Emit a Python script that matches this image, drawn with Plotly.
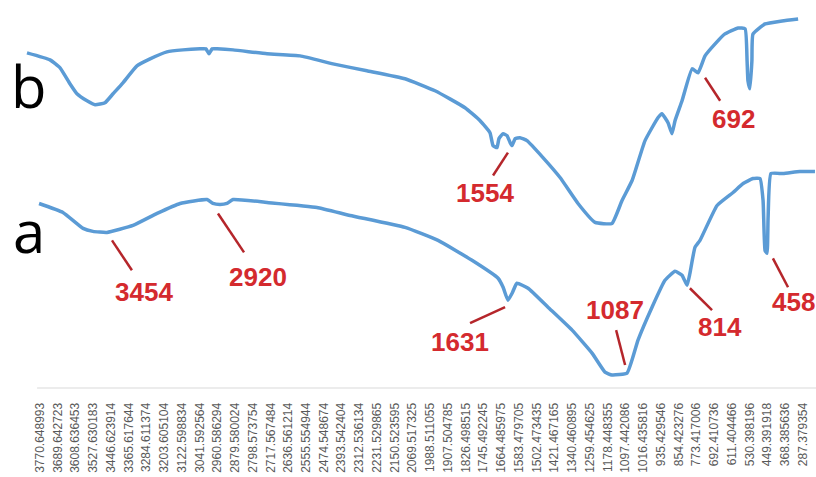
import plotly.graph_objects as go

# FTIR spectra: wavenumber (cm-1) vs transmittance (arbitrary units, offset traces)
wn_b = [3830, 3725, 3679, 3634, 3602, 3556, 3519, 3474, 3437, 3392, 3328, 3268,
        3191, 3118, 3040, 3013, 2999, 2985, 2962, 2889, 2734, 2583, 2433, 2278,
        2104, 1967, 1830, 1761, 1716, 1702, 1684, 1675, 1656, 1638, 1624, 1615,
        1601, 1579, 1547, 1474, 1396, 1314, 1236, 1159, 1113, 1067, 1008, 949,
        931, 903, 885, 871, 839, 793, 766, 734, 688, 643, 583, 551, 542, 538,
        529, 520, 515, 460, 382, 309]
t_b = [336, 329, 321, 305, 295, 288, 284, 286, 295, 306, 323, 330,
       337, 339, 340, 340, 335, 340, 340, 339, 335, 333, 325, 318,
       310, 298, 281, 268, 256, 243, 241, 250, 255, 253, 246, 243,
       250, 251, 248, 231, 211, 185, 166, 165, 188, 208, 248, 271,
       275, 266, 255, 268, 288, 320, 316, 333, 345, 355, 361, 360, 328, 308,
       300, 328, 355, 365, 368, 370]

wn_a = [3775, 3666, 3574, 3529, 3465, 3346, 3236, 3131, 3008, 2981, 2949, 2917,
        2889, 2734, 2506, 2355, 2104, 1953, 1798, 1679, 1656, 1634, 1615, 1593,
        1542, 1451, 1341, 1250, 1191, 1159, 1090, 1040, 976, 917, 871, 839,
        816, 803, 780, 757, 679, 606, 560, 515, 483, 469, 460, 451, 446, 433,
        378, 301, 232]
t_a = [185, 176, 160, 157, 156, 163, 175, 185, 189, 185, 184, 185,
       189, 186, 181, 173, 161, 148, 128, 110, 101, 88, 95, 105,
       100, 81, 58, 35, 16, 13, 15, 48, 81, 108, 117, 113,
       103, 115, 141, 148, 183, 196, 205, 210, 210, 188, 138, 135, 171, 215,
       215, 217, 217]

tick_labels = [
    "3770.648993", "3689.642723", "3608.636453", "3527.630183", "3446.623914",
    "3365.617644", "3284.611374", "3203.605104", "3122.598834", "3041.592564",
    "2960.586294", "2879.580024", "2798.573754", "2717.567484", "2636.561214",
    "2555.554944", "2474.548674", "2393.542404", "2312.536134", "2231.529865",
    "2150.523595", "2069.517325", "1988.511055", "1907.504785", "1826.498515",
    "1745.492245", "1664.485975", "1583.479705", "1502.473435", "1421.467165",
    "1340.460895", "1259.454625", "1178.448355", "1097.442086", "1016.435816",
    "935.429546", "854.423276", "773.417006", "692.410736", "611.404466",
    "530.398196", "449.391918", "368.385636", "287.379354",
]

peak_labels = ["3454", "2920", "1631", "1087", "814", "458", "1554", "692"]

# leader line (x0, y0, x1, y1) and text anchor (x, y) for each peak label
peak_layout = [
    (3442, 148, 3351, 118, 3296, 96),
    (2958, 175, 2839, 136, 2775, 111),
    (1647, 81, 1807, 65, 1853, 46),
    (1099, 23, 1140, 58, 1145, 78),
    (803, 100, 702, 78, 666, 61),
    (424, 130, 355, 101, 332, 86),
    (1634, 236, 1702, 213, 1739, 196),
    (734, 311, 665, 288, 606, 270),
]

trace_names = ["b", "a"]
trace_label_pos = [(3823, 303), (3823, 158)]

BLUE = "#5B9BD5"
RED_TEXT = "#D42A2E"
RED_LINE = "#B5262B"

fig = go.Figure()
for name, xs, ys in (("b", wn_b, t_b), ("a", wn_a, t_a)):
    fig.add_trace(go.Scatter(x=xs, y=ys, mode="lines", name=name,
                             line=dict(color=BLUE, width=3.5, shape="spline", smoothing=0.4),
                             hoverinfo="x+name", showlegend=False))

shapes = [dict(type="line", xref="x", yref="paper", x0=3784, x1=227, y0=0, y1=0,
               line=dict(color="#D9D9D9", width=1))]
annotations = []
for text, (x0, y0, x1, y1, tx, ty) in zip(peak_labels, peak_layout):
    shapes.append(dict(type="line", xref="x", yref="y", x0=x0, y0=y0, x1=x1, y1=y1,
                       line=dict(color=RED_LINE, width=2.5)))
    annotations.append(dict(x=tx, y=ty, xref="x", yref="y", text="<b>%s</b>" % text,
                            showarrow=False,
                            font=dict(family="Liberation Sans", size=26, color=RED_TEXT),
                            xanchor="center", yanchor="middle"))

for name, (tx, ty) in zip(trace_names, trace_label_pos):
    annotations.append(dict(x=tx, y=ty, xref="x", yref="y", text=name, showarrow=False,
                            font=dict(family="Open Sans", size=58, color="#000000"),
                            xanchor="center", yanchor="middle"))

fig.update_layout(
    width=816, height=477,
    margin=dict(l=0, r=0, t=0, b=89),
    paper_bgcolor="white", plot_bgcolor="white",
    shapes=shapes, annotations=annotations,
    xaxis=dict(range=[3953.3, 227.3], tickmode="array",
               tickvals=[float(v) for v in tick_labels], ticktext=tick_labels,
               tickangle=-90, ticks="outside", ticklen=9, tickcolor="rgba(0,0,0,0)",
               tickfont=dict(family="Liberation Sans Narrow, Liberation Sans", size=12,
                             color="#595959"),
               showgrid=False, zeroline=False, showline=False),
    yaxis=dict(range=[0, 389], visible=False, showgrid=False, zeroline=False),
)

fig.write_html("out.html")
